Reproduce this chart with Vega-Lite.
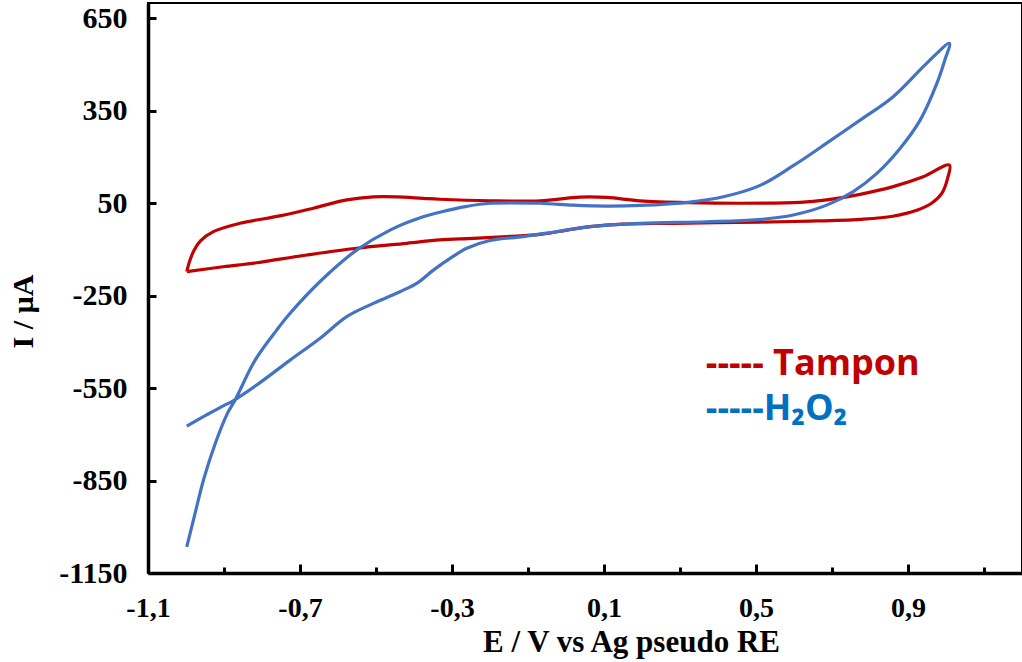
{
  "$schema": "https://vega.github.io/schema/vega-lite/v6.json",
  "autosize": "none",
  "width": 874,
  "height": 570,
  "padding": {"left": 148, "top": 3, "right": 0, "bottom": 89},
  "background": "white",
  "config": {"view": {"stroke": "black", "strokeWidth": 2}},
  "layer": [
    {
      "data": {"values": [
        {"s":"Tampon","o":1,"E":-0.998,"I":-172},
        {"s":"Tampon","o":2,"E":-0.991,"I":-140},
        {"s":"Tampon","o":3,"E":-0.979,"I":-103},
        {"s":"Tampon","o":4,"E":-0.962,"I":-72},
        {"s":"Tampon","o":5,"E":-0.928,"I":-42},
        {"s":"Tampon","o":6,"E":-0.858,"I":-15},
        {"s":"Tampon","o":7,"E":-0.753,"I":9},
        {"s":"Tampon","o":8,"E":-0.665,"I":34},
        {"s":"Tampon","o":9,"E":-0.577,"I":61},
        {"s":"Tampon","o":10,"E":-0.507,"I":71},
        {"s":"Tampon","o":11,"E":-0.446,"I":71},
        {"s":"Tampon","o":12,"E":-0.376,"I":66},
        {"s":"Tampon","o":13,"E":-0.332,"I":63},
        {"s":"Tampon","o":14,"E":-0.2,"I":58},
        {"s":"Tampon","o":15,"E":-0.068,"I":58},
        {"s":"Tampon","o":16,"E":0.037,"I":70},
        {"s":"Tampon","o":17,"E":0.107,"I":69},
        {"s":"Tampon","o":18,"E":0.195,"I":58},
        {"s":"Tampon","o":19,"E":0.326,"I":52},
        {"s":"Tampon","o":20,"E":0.458,"I":50},
        {"s":"Tampon","o":21,"E":0.616,"I":53},
        {"s":"Tampon","o":22,"E":0.686,"I":61},
        {"s":"Tampon","o":23,"E":0.774,"I":79},
        {"s":"Tampon","o":24,"E":0.861,"I":104},
        {"s":"Tampon","o":25,"E":0.94,"I":136},
        {"s":"Tampon","o":26,"E":1.009,"I":174},
        {"s":"Tampon","o":27,"E":1.004,"I":130},
        {"s":"Tampon","o":28,"E":0.989,"I":82},
        {"s":"Tampon","o":29,"E":0.962,"I":50},
        {"s":"Tampon","o":30,"E":0.925,"I":28},
        {"s":"Tampon","o":31,"E":0.86,"I":8},
        {"s":"Tampon","o":32,"E":0.774,"I":-2},
        {"s":"Tampon","o":33,"E":0.642,"I":-8},
        {"s":"Tampon","o":34,"E":0.511,"I":-11},
        {"s":"Tampon","o":35,"E":0.282,"I":-15},
        {"s":"Tampon","o":36,"E":0.151,"I":-18},
        {"s":"Tampon","o":37,"E":0.063,"I":-26},
        {"s":"Tampon","o":38,"E":0.002,"I":-37},
        {"s":"Tampon","o":39,"E":-0.068,"I":-51},
        {"s":"Tampon","o":40,"E":-0.156,"I":-58},
        {"s":"Tampon","o":41,"E":-0.244,"I":-64},
        {"s":"Tampon","o":42,"E":-0.332,"I":-69},
        {"s":"Tampon","o":43,"E":-0.419,"I":-80},
        {"s":"Tampon","o":44,"E":-0.551,"I":-96},
        {"s":"Tampon","o":45,"E":-0.682,"I":-118},
        {"s":"Tampon","o":46,"E":-0.814,"I":-143},
        {"s":"Tampon","o":47,"E":-0.902,"I":-156},
        {"s":"Tampon","o":48,"E":-0.998,"I":-172},
        {"s":"H2O2","o":1,"E":-0.998,"I":-673},
        {"s":"H2O2","o":2,"E":-0.946,"I":-637},
        {"s":"H2O2","o":3,"E":-0.906,"I":-610},
        {"s":"H2O2","o":4,"E":-0.876,"I":-591},
        {"s":"H2O2","o":5,"E":-0.814,"I":-540},
        {"s":"H2O2","o":6,"E":-0.726,"I":-459},
        {"s":"H2O2","o":7,"E":-0.647,"I":-388},
        {"s":"H2O2","o":8,"E":-0.577,"I":-318},
        {"s":"H2O2","o":9,"E":-0.507,"I":-275},
        {"s":"H2O2","o":10,"E":-0.437,"I":-237},
        {"s":"H2O2","o":11,"E":-0.393,"I":-210},
        {"s":"H2O2","o":12,"E":-0.349,"I":-167},
        {"s":"H2O2","o":13,"E":-0.305,"I":-129},
        {"s":"H2O2","o":14,"E":-0.261,"I":-96},
        {"s":"H2O2","o":15,"E":-0.2,"I":-71},
        {"s":"H2O2","o":16,"E":-0.112,"I":-58},
        {"s":"H2O2","o":17,"E":-0.024,"I":-42},
        {"s":"H2O2","o":18,"E":0.063,"I":-26},
        {"s":"H2O2","o":19,"E":0.195,"I":-15},
        {"s":"H2O2","o":20,"E":0.37,"I":-10},
        {"s":"H2O2","o":21,"E":0.505,"I":-3},
        {"s":"H2O2","o":22,"E":0.598,"I":12},
        {"s":"H2O2","o":23,"E":0.686,"I":44},
        {"s":"H2O2","o":24,"E":0.756,"I":88},
        {"s":"H2O2","o":25,"E":0.818,"I":147},
        {"s":"H2O2","o":26,"E":0.879,"I":228},
        {"s":"H2O2","o":27,"E":0.932,"I":320},
        {"s":"H2O2","o":28,"E":0.976,"I":439},
        {"s":"H2O2","o":29,"E":0.997,"I":515},
        {"s":"H2O2","o":30,"E":1.009,"I":569},
        {"s":"H2O2","o":31,"E":0.949,"I":504},
        {"s":"H2O2","o":32,"E":0.861,"I":396},
        {"s":"H2O2","o":33,"E":0.774,"I":320},
        {"s":"H2O2","o":34,"E":0.686,"I":245},
        {"s":"H2O2","o":35,"E":0.598,"I":172},
        {"s":"H2O2","o":36,"E":0.511,"I":108},
        {"s":"H2O2","o":37,"E":0.414,"I":71},
        {"s":"H2O2","o":38,"E":0.326,"I":54},
        {"s":"H2O2","o":39,"E":0.195,"I":43},
        {"s":"H2O2","o":40,"E":0.107,"I":41},
        {"s":"H2O2","o":41,"E":0.019,"I":44},
        {"s":"H2O2","o":42,"E":-0.068,"I":50},
        {"s":"H2O2","o":43,"E":-0.2,"I":50},
        {"s":"H2O2","o":44,"E":-0.261,"I":40},
        {"s":"H2O2","o":45,"E":-0.332,"I":21},
        {"s":"H2O2","o":46,"E":-0.376,"I":6},
        {"s":"H2O2","o":47,"E":-0.463,"I":-37},
        {"s":"H2O2","o":48,"E":-0.551,"I":-102},
        {"s":"H2O2","o":49,"E":-0.643,"I":-199},
        {"s":"H2O2","o":50,"E":-0.726,"I":-307},
        {"s":"H2O2","o":51,"E":-0.761,"I":-361},
        {"s":"H2O2","o":52,"E":-0.818,"I":-459},
        {"s":"H2O2","o":53,"E":-0.871,"I":-589},
        {"s":"H2O2","o":54,"E":-0.891,"I":-632},
        {"s":"H2O2","o":55,"E":-0.926,"I":-740},
        {"s":"H2O2","o":56,"E":-0.954,"I":-848},
        {"s":"H2O2","o":57,"E":-0.976,"I":-956},
        {"s":"H2O2","o":58,"E":-0.998,"I":-1065}
      ]},
      "mark": {"type": "line", "strokeWidth": 3.2, "interpolate": "catmull-rom", "clip": true},
      "encoding": {
        "x": {
          "field": "E", "type": "quantitative",
          "scale": {"domain": [-1.1, 1.2], "nice": false, "zero": false},
          "axis": {
            "values": [-1.1, -0.9, -0.7, -0.5, -0.3, -0.1, 0.1, 0.3, 0.5, 0.7, 0.9, 1.1],
            "labelExpr": "abs((datum.value + 1.1) / 0.4 - round((datum.value + 1.1) / 0.4)) < 0.01 ? replace(replace(format(datum.value, '.1f'), '.', ','), '\u2212', '-') : ''",
            "grid": false,
            "domainColor": "black", "domainWidth": 3.5,
            "tickColor": "black", "tickWidth": 3,
            "tickSize": {"condition": {"test": "abs((datum.value + 1.1) / 0.4 - round((datum.value + 1.1) / 0.4)) < 0.01", "value": -9}, "value": -6},
            "labelFont": "Liberation Serif", "labelFontWeight": "bold", "labelFontSize": 28, "labelColor": "black",
            "labelPadding": 30, "labelBaseline": "top", "labelFlush": false, "labelOverlap": false,
            "title": "E / V vs Ag pseudo RE",
            "titleFont": "Liberation Serif", "titleFontWeight": "bold", "titleFontSize": 31, "titleColor": "black",
            "titleX": 483, "titleY": 78, "titleBaseline": "alphabetic", "titleAlign": "center"
          }
        },
        "y": {
          "field": "I", "type": "quantitative",
          "scale": {"domain": [-1150, 700], "nice": false, "zero": false},
          "axis": {
            "values": [650, 350, 50, -250, -550, -850, -1150],
            "labelExpr": "replace(format(datum.value, 'd'), '\u2212', '-')",
            "grid": false,
            "domainColor": "black", "domainWidth": 3.5,
            "tickColor": "black", "tickWidth": 3, "tickSize": -8,
            "labelFont": "Liberation Serif", "labelFontWeight": "bold", "labelFontSize": 30, "labelColor": "black",
            "labelPadding": 29, "labelFlush": false, "labelOverlap": false,
            "title": "I / µA",
            "titleFont": "Liberation Serif", "titleFontWeight": "bold", "titleFontSize": 30, "titleColor": "black",
            "titleX": -116, "titleY": 308, "titleAngle": -90, "titleBaseline": "alphabetic", "titleAlign": "center"
          }
        },
        "color": {
          "field": "s", "type": "nominal",
          "scale": {"domain": ["Tampon", "H2O2"], "range": ["#C00000", "#4472C4"]},
          "legend": null
        },
        "order": {"field": "o", "type": "quantitative"}
      }
    },
    {
      "data": {"values": [{"label": "----- Tampon"}]},
      "mark": {"type": "text", "align": "left", "baseline": "alphabetic", "font": "Open Sans", "fontWeight": "bold", "fontSize": 36, "color": "#C00000"},
      "encoding": {
        "x": {"datum": 0.368},
        "y": {"datum": -507},
        "text": {"field": "label"}
      }
    },
    {
      "data": {"values": [{"label": "-----H₂O₂"}]},
      "mark": {"type": "text", "align": "left", "baseline": "alphabetic", "font": "Open Sans, DejaVu Sans", "fontWeight": "bold", "fontSize": 36, "color": "#0070C0"},
      "encoding": {
        "x": {"datum": 0.368},
        "y": {"datum": -653},
        "text": {"field": "label"}
      }
    }
  ]
}
